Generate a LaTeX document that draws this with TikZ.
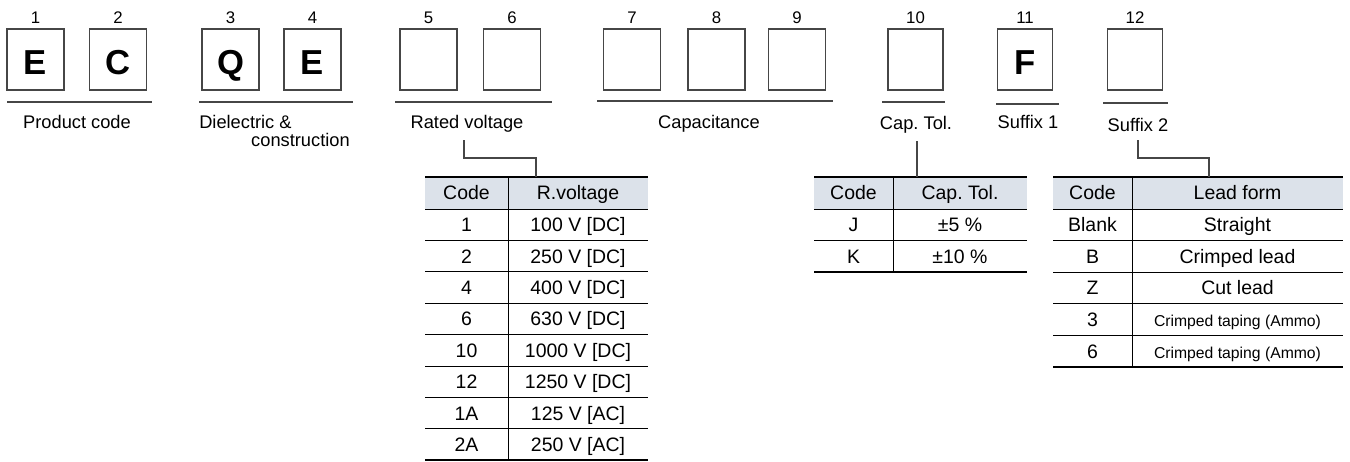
\documentclass[tikz,border=0pt]{standalone}
\usepackage{fontspec}
\setmainfont{Liberation Sans}
\usetikzlibrary{positioning}
\definecolor{headfill}{RGB}{220,226,234}
\definecolor{linegray}{RGB}{70,70,70}
\newcommand{\smallcell}{\fontsize{11.8}{14}\selectfont}
\frenchspacing

\begin{document}
\begin{tikzpicture}[x=0.75pt,y=-0.75pt,
    txt/.style={inner sep=0pt, text depth=0pt},
    box/.style={draw=linegray, line width=0.8pt, minimum height=45.75pt, inner sep=0pt,
        text height=21.9pt, text depth=0pt, font=\fontsize{26}{26}\selectfont\bfseries},
    num/.style={txt, text height=9pt, font=\fontsize{12.6}{14}\selectfont},
    grp/.style={txt, text height=9.8pt, font=\fontsize{13.7}{16}\selectfont},
    cell/.style={txt, text height=10.45pt, font=\fontsize{14.6}{17}\selectfont},
    uline/.style={draw=linegray, line width=0.8pt},
    conn/.style={draw=linegray, line width=0.8pt},
    thinrule/.style={draw=black, line width=0.7pt},
    thickrule/.style={draw=black, line width=1.9pt}]
    \useasboundingbox (0,0) rectangle (1350,461);

    % Code boxes with their position numbers
    \foreach \i/\x/\w/\c in {1/35.5/57/E, 2/118/57/C, 3/230.5/57/Q, 4/312.5/57/E,
        5/428.5/57/, 6/512/57/, 7/632/57/, 8/716.5/57/, 9/797/57/,
        10/915.5/55/, 11/1025/55/F, 12/1135/55/}{
      \node[box, minimum width=\w*0.75pt] (b\i) at (\x,59.5) {\c};
      \node[num, above=3.75pt of b\i] (n\i) {\i};
    }

    % Underlines of the groups
    \draw[uline] (7,102) -- (152,102);
    \draw[uline] (199,102) -- (353,102);
    \draw[uline] (395,102) -- (552,102);
    \draw[uline] (597,101) -- (833,101);
    \draw[uline] (882,102) -- (945,102);
    \draw[uline] (996,104) -- (1059,104);
    \draw[uline] (1103,103) -- (1168,103);

    % Group names
    \node[grp] (product) at (77,122) {Product code};
    \node[grp, anchor=west] (dielec) at (199,122) {Dielectric \&};
    \node[grp, anchor=east] (constr) at (350,140) {construction};
    \node[grp] (rated) at (467,122) {Rated voltage};
    \node[grp] (capac) at (709,122) {Capacitance};
    \node[grp] (captol) at (916,123) {Cap. Tol.};
    \node[grp] (suf1) at (1028,122) {Suffix 1};
    \node[grp] (suf2) at (1138,125) {Suffix 2};

    % Rated voltage table
    \fill[headfill] (425,177) rectangle (648,209);
    \node[cell] (rvcode) at (466.5,193) {Code};
    \node[cell] (rvval) at (578,193) {R.voltage};
    \foreach \c/\v [count=\r] in {1/100 V [DC], 2/250 V [DC], 4/400 V [DC], 6/630 V [DC],
        10/1000 V [DC], 12/1250 V [DC], 1A/125 V [AC], 2A/250 V [AC]}{
      \node[cell] (rvc\r) at (466.5,209+31.4*\r-15.7) {\c};
      \node[cell] (rvv\r) at (578,209+31.4*\r-15.7) {\v};
    }
    \foreach \r in {0,...,7}
      \draw[thinrule] (425,209+31.4*\r) -- (648,209+31.4*\r);
    \draw[thinrule] (508,177) -- (508,460);
    \draw[thickrule] (425,177) -- (648,177);
    \draw[thickrule] (425,460) -- (648,460);

    % Cap. Tol. table
    \fill[headfill] (814,177) rectangle (1027,209);
    \node[cell] (ctcode) at (853.5,193) {Code};
    \node[cell] (ctval) at (960,193) {Cap. Tol.};
    \foreach \c/\v [count=\r] in {J/{±5 \%}, K/{±10 \%}}{
      \node[cell] (ctc\r) at (853.5,209+31.5*\r-15.75) {\c};
      \node[cell] (ctv\r) at (960,209+31.5*\r-15.75) {\v};
    }
    \foreach \r in {0,1}
      \draw[thinrule] (814,209+31.5*\r) -- (1027,209+31.5*\r);
    \draw[thinrule] (893,177) -- (893,272);
    \draw[thickrule] (814,177) -- (1027,177);
    \draw[thickrule] (814,272) -- (1027,272);

    % Lead form table
    \fill[headfill] (1053,177) rectangle (1343,209);
    \node[cell] (lfcode) at (1092.5,193) {Code};
    \node[cell] (lfval) at (1237.5,193) {Lead form};
    \foreach \c/\v [count=\r] in {Blank/Straight, B/Crimped lead, Z/Cut lead,
        3/{\smallcell Crimped taping (Ammo)}, 6/{\smallcell Crimped taping (Ammo)}}{
      \node[cell] (lfc\r) at (1092.5,209+31.6*\r-15.8) {\c};
      \node[cell] (lfv\r) at (1237.5,209+31.6*\r-15.8) {\v};
    }
    \foreach \r in {0,...,4}
      \draw[thinrule] (1053,209+31.6*\r) -- (1343,209+31.6*\r);
    \draw[thinrule] (1132,177) -- (1132,367);
    \draw[thickrule] (1053,177) -- (1343,177);
    \draw[thickrule] (1053,367) -- (1343,367);

    % Connectors from group names to tables
    \coordinate (rvfrom) at (464,140);
    \coordinate (rvto) at (536,177);
    \draw[conn] (rvfrom) -- ++(0,18) -| (rvto);

    \coordinate (ctfrom) at (917,141);
    \coordinate (ctto) at (917,177);
    \draw[conn] (ctfrom) -- (ctto);

    \coordinate (lffrom) at (1138,140);
    \coordinate (lfto) at (1209,177);
    \draw[conn] (lffrom) -- ++(0,18) -| (lfto);

\end{tikzpicture}
\end{document}
